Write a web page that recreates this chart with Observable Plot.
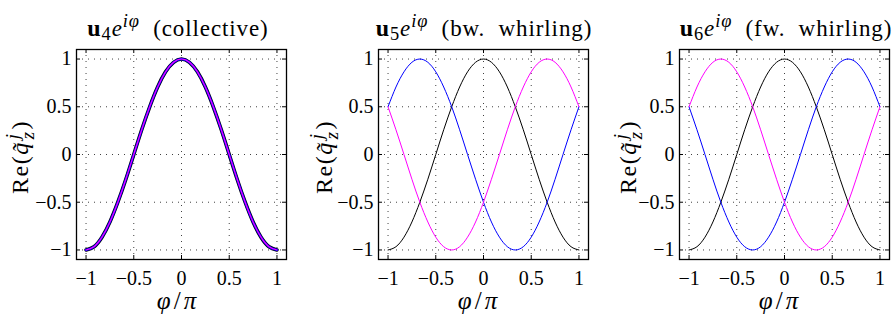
<!DOCTYPE html>
<html><head><meta charset="utf-8">
<script src="https://cdn.jsdelivr.net/npm/d3@7"></script>
<script src="https://cdn.jsdelivr.net/npm/@observablehq/plot@0.6"></script>
<style>
body{margin:0;background:#fff;}
#wrap{position:relative;width:892px;height:320px;overflow:hidden;font-family:"Liberation Serif",serif;color:#000;}
.panel{position:absolute;top:0;}
.title{position:absolute;top:16px;font-size:23px;line-height:24px;letter-spacing:0.9px;white-space:nowrap;transform:translateX(-50%);}
.title b{font-size:24px;}
.sup{position:relative;top:-0.5em;font-size:80%;}
.sub{position:relative;top:0.22em;font-size:80%;}
.xl{position:absolute;top:288px;font-size:25px;line-height:26px;letter-spacing:3px;white-space:nowrap;transform:translateX(-50%);}
.yl{position:absolute;font-size:24px;line-height:28px;letter-spacing:1.5px;white-space:nowrap;transform:translate(-50%,-50%) rotate(-90deg);}
.ss{display:inline-block;vertical-align:-0.3em;line-height:0.8;font-size:78%;font-style:italic;text-align:left;margin-left:2px;margin-right:1px;}
.ss span{display:block;}
</style>
</head><body>
<div id="wrap"></div>
<script>
// sample positions φ/π
const phi = [-1, -0.917, -0.833, -0.75, -0.667, -0.583, -0.5, -0.417, -0.333, -0.25, -0.167, -0.083, 0,
             0.083, 0.167, 0.25, 0.333, 0.417, 0.5, 0.583, 0.667, 0.75, 0.833, 0.917, 1];

// panel 1: collective (all three curves coincide)
const p1Black   = [-1, -0.966, -0.866, -0.707, -0.5, -0.259, 0, 0.259, 0.5, 0.707, 0.866, 0.966, 1, 0.966, 0.866, 0.707, 0.5, 0.259, 0, -0.259, -0.5, -0.707, -0.866, -0.966, -1];
const p1Blue    = [-1, -0.966, -0.866, -0.707, -0.5, -0.259, 0, 0.259, 0.5, 0.707, 0.866, 0.966, 1, 0.966, 0.866, 0.707, 0.5, 0.259, 0, -0.259, -0.5, -0.707, -0.866, -0.966, -1];
const p1Magenta = [-1, -0.966, -0.866, -0.707, -0.5, -0.259, 0, 0.259, 0.5, 0.707, 0.866, 0.966, 1, 0.966, 0.866, 0.707, 0.5, 0.259, 0, -0.259, -0.5, -0.707, -0.866, -0.966, -1];

// panel 2: backward whirling
const p2Black   = [-1, -0.966, -0.866, -0.707, -0.5, -0.259, 0, 0.259, 0.5, 0.707, 0.866, 0.966, 1, 0.966, 0.866, 0.707, 0.5, 0.259, 0, -0.259, -0.5, -0.707, -0.866, -0.966, -1];
const p2Blue    = [0.5, 0.707, 0.866, 0.966, 1, 0.966, 0.866, 0.707, 0.5, 0.259, 0, -0.259, -0.5, -0.707, -0.866, -0.966, -1, -0.966, -0.866, -0.707, -0.5, -0.259, 0, 0.259, 0.5];
const p2Magenta = [0.5, 0.259, 0, -0.259, -0.5, -0.707, -0.866, -0.966, -1, -0.966, -0.866, -0.707, -0.5, -0.259, 0, 0.259, 0.5, 0.707, 0.866, 0.966, 1, 0.966, 0.866, 0.707, 0.5];

// panel 3: forward whirling
const p3Black   = [-1, -0.966, -0.866, -0.707, -0.5, -0.259, 0, 0.259, 0.5, 0.707, 0.866, 0.966, 1, 0.966, 0.866, 0.707, 0.5, 0.259, 0, -0.259, -0.5, -0.707, -0.866, -0.966, -1];
const p3Blue    = [0.5, 0.259, 0, -0.259, -0.5, -0.707, -0.866, -0.966, -1, -0.966, -0.866, -0.707, -0.5, -0.259, 0, 0.259, 0.5, 0.707, 0.866, 0.966, 1, 0.966, 0.866, 0.707, 0.5];
const p3Magenta = [0.5, 0.707, 0.866, 0.966, 1, 0.966, 0.866, 0.707, 0.5, 0.259, 0, -0.259, -0.5, -0.707, -0.866, -0.966, -1, -0.966, -0.866, -0.707, -0.5, -0.259, 0, 0.259, 0.5];

const xTicks = [-1, -0.5, 0, 0.5, 1];
const xTickLabels = ["\u22121", "\u22120.5", "0", "0.5", "1"];
const yTicks = [-1, -0.5, 0, 0.5, 1];
const yTickLabels = ["\u22121", "\u22120.5", "0", "0.5", "1"];

const titleNums = ["4", "5", "6"];
const titleWords = ["(collective)", "(bw.\u00a0 whirling)", "(fw.\u00a0 whirling)"];
const xLabelHTML = '<i>\u03c6</i>/<i>\u03c0</i>';
const yLabelHTML = 'Re(<i>q\u0303</i><span class="ss"><span>j</span><span>z</span></span>)';

const panels = [
  {black: p1Black, blue: p1Blue, magenta: p1Magenta, left: 0,   width: 297, ml: 76, mr: 11, widths: [3.6, 2.4, 1.1], titleX: 178, xlX: 178, ylX: 21},
  {black: p2Black, blue: p2Blue, magenta: p2Magenta, left: 297, width: 297, ml: 81, mr: 6,  widths: [1, 1, 1],        titleX: 484, xlX: 479, ylX: 325},
  {black: p3Black, blue: p3Blue, magenta: p3Magenta, left: 594, width: 298, ml: 85, mr: 3,  widths: [1, 1, 1],        titleX: 786, xlX: 780, ylX: 629}
];

const H = 320, MT = 49, MB = 61;
const wrap = document.getElementById("wrap");

panels.forEach((p, i) => {
  const innerW = p.width - p.ml - p.mr;
  const innerH = H - MT - MB;
  const series = [["#000000", p.black, p.widths[0]], ["#0000ff", p.blue, p.widths[1]], ["#ff00ff", p.magenta, p.widths[2]]];
  const lines = series.map(([c, vals, w]) =>
    Plot.line(phi.map((x, k) => ({x, y: vals[k]})), {x: "x", y: "y", stroke: c, strokeWidth: w, curve: "natural"}));
  const dots = {stroke: "#000", strokeOpacity: 0.75, strokeWidth: 1, strokeDasharray: "1,5"};
  const chart = Plot.plot({
    width: p.width, height: H,
    marginLeft: p.ml, marginRight: p.mr, marginTop: MT, marginBottom: MB,
    style: {fontFamily: "'Liberation Serif', serif", fontSize: "20px", color: "#000", background: "transparent", overflow: "visible"},
    x: {domain: [-1.1, 1.1]},
    y: {domain: [-1.1, 1.1]},
    marks: [
      Plot.gridX(xTicks, dots),
      Plot.gridY(yTicks, dots),
      ...lines,
      Plot.tickX(xTicks, {x: d => d, insetTop: innerH - 4, stroke: "#000"}),
      Plot.tickX(xTicks, {x: d => d, insetBottom: innerH - 4, stroke: "#000"}),
      Plot.tickY(yTicks, {y: d => d, insetRight: innerW - 4, stroke: "#000"}),
      Plot.tickY(yTicks, {y: d => d, insetLeft: innerW - 4, stroke: "#000"}),
      Plot.axisX(xTicks, {tickSize: 0, tickPadding: 11, label: null, tickFormat: d => xTickLabels[xTicks.indexOf(d)], fill: "#000"}),
      Plot.axisY(yTicks, {tickSize: 0, tickPadding: 5, label: null, tickFormat: d => yTickLabels[yTicks.indexOf(d)], fill: "#000"}),
      Plot.frame({stroke: "#000", strokeWidth: 1.3})
    ]
  });
  chart.classList.add("panel");
  chart.style.left = p.left + "px";
  wrap.appendChild(chart);

  const t = document.createElement("div");
  t.className = "title";
  t.style.left = p.titleX + "px";
  t.innerHTML = '<b>u</b><span class="sub">' + titleNums[i] + '</span><i>e</i><span class="sup"><i>i\u03c6</i></span>&nbsp; ' + titleWords[i];
  wrap.appendChild(t);

  const xl = document.createElement("div");
  xl.className = "xl";
  xl.style.left = p.xlX + "px";
  xl.innerHTML = xLabelHTML;
  wrap.appendChild(xl);

  const yl = document.createElement("div");
  yl.className = "yl";
  yl.style.left = p.ylX + "px";
  yl.style.top = (MT + innerH / 2 + 3) + "px";
  yl.innerHTML = yLabelHTML;
  wrap.appendChild(yl);
});
</script>
</body></html>
